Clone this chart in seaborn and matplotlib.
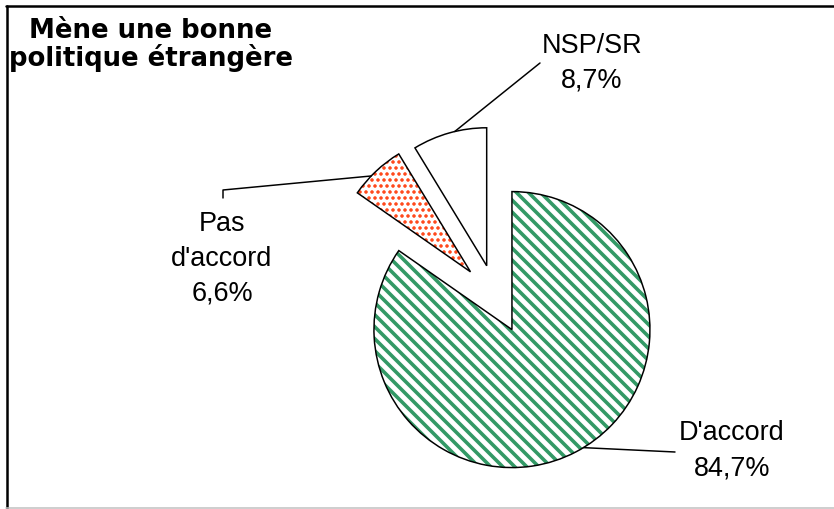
import numpy as np
import matplotlib.pyplot as plt
import seaborn as sns

# data
labels = ["D'accord", "Pas\nd'accord", "NSP/SR"]
shares = [84.7, 6.6, 8.7]
share_text = ['84,7%', '6,6%', '8,7%']
colors = ['#339966', '#ff3300', '#ffffff']
hatches = ['\\', '.', '']
title = 'Mène une bonne\npolitique étrangère'

# low dpi so the hatch cell gives the stripe spacing of the original;
# S converts pixel sizes to points
DPI = 36
S = 72 / DPI

sns.set_theme(style='white')
plt.rcParams['font.family'] = ['Liberation Sans', 'DejaVu Sans']
plt.rcParams['hatch.linewidth'] = 3.6 * S

W, H = 834, 509
fig = plt.figure(figsize=(W / DPI, H / DPI), dpi=DPI)
ax = fig.add_axes([0, 0, 1, 1])

R = 138
center = (496, H - 299)
explode = [0.25 * R, 0.27 * R, 0.25 * R]

# hatched fill first, black outlines on top
fill, _ = ax.pie(shares, explode=explode, startangle=90, counterclock=False,
                 radius=R, center=center, hatch=hatches,
                 wedgeprops=dict(linewidth=0))
for w, c in zip(fill, colors):
    w.set_facecolor('white')
    w.set_edgecolor(c)
if hasattr(fill[1], 'set_hatch_linewidth'):
    fill[1].set_hatch_linewidth(2.2 * S)

wedges, _ = ax.pie(shares, explode=explode, startangle=90, counterclock=False,
                   radius=R, center=center,
                   wedgeprops=dict(fill=False, edgecolor='black', linewidth=1.5 * S))

ax.set_xlim(0, W)
ax.set_ylim(0, H)
ax.set_aspect('equal')
ax.axis('off')


def rim_point(w, angle):
    cx, cy = w.center
    a = np.deg2rad(angle)
    return cx + w.r * np.cos(a), cy + w.r * np.sin(a)


# leader lines and labels
anchor_angle = [-58.8, 136, 103.4]
leader_path = [[(675, H - 452)], [(223, H - 190), (223, H - 198)], [(540, H - 63)]]
label_pos = [(732, H - 451), (222, H - 259), (592, H - 63)]

for w, ang, path, pos, lab, txt in zip(wedges, anchor_angle, leader_path,
                                       label_pos, labels, share_text):
    pts = [rim_point(w, ang)] + path
    xs, ys = zip(*pts)
    ax.plot(xs, ys, color='black', lw=1.5 * S)
    ax.text(pos[0], pos[1], lab + '\n' + txt, ha='center', va='center',
            fontsize=27 * S, linespacing=1.45, color='black')

ax.text(151, H - 45, title, ha='center', va='center', fontsize=26 * S,
        fontweight='bold', family='DejaVu Sans', linespacing=0.98,
        color='black')

# frame of the original picture
ax.plot([7, 7], [0, H - 6], color='black', lw=2.5 * S, clip_on=False)
ax.plot([6, W], [H - 6, H - 6], color='black', lw=2.5 * S, clip_on=False)
ax.plot([6, W], [1.5, 1.5], color='#c0c0c0', lw=1.5 * S, clip_on=False)

fig.savefig('out.png', dpi=DPI)
